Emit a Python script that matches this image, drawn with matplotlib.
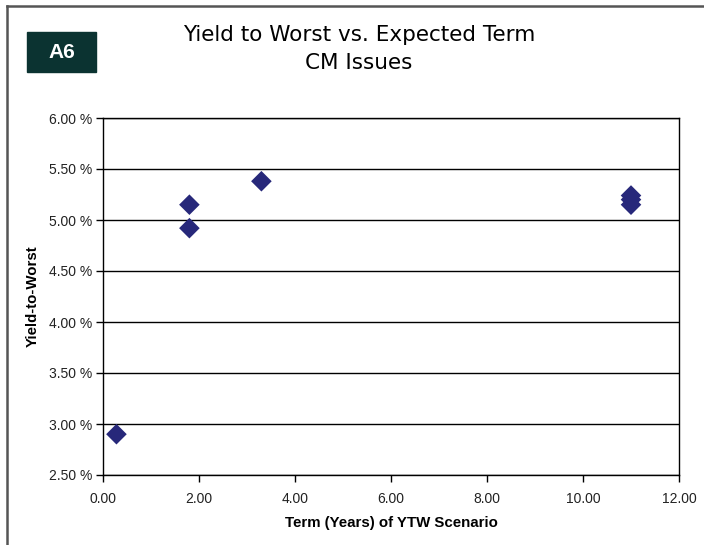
import matplotlib
matplotlib.use("Agg")
import matplotlib.pyplot as plt
from matplotlib.lines import Line2D
from matplotlib.patches import Rectangle
from matplotlib.ticker import FuncFormatter

# Term (years) and yield-to-worst (%) for each issue
term_years = [0.28, 1.80, 1.80, 3.30, 11.00, 11.00, 11.00]
ytw_pct = [2.90, 5.15, 4.92, 5.38, 5.24, 5.20, 5.15]

x_ticks = [0, 2, 4, 6, 8, 10, 12]
y_ticks = [2.5, 3.0, 3.5, 4.0, 4.5, 5.0, 5.5, 6.0]

plt.rcParams['font.family'] = ['Liberation Sans', 'DejaVu Sans']

fig = plt.figure(figsize=(7.04, 5.45), dpi=100)
ax = fig.add_axes([103 / 704, 1 - 475 / 545, 576 / 704, 357 / 545])

ax.scatter(term_years, ytw_pct, marker='D', s=110, color='#27287a',
           edgecolors='none', zorder=3)

ax.set_xlim(0, 12)
ax.set_ylim(2.5, 6.0)
ax.set_xticks(x_ticks)
ax.set_yticks(y_ticks)
ax.xaxis.set_major_formatter(FuncFormatter(lambda v, p: f"{v:.2f}"))
ax.yaxis.set_major_formatter(FuncFormatter(lambda v, p: f"{v:.2f} %"))
ax.tick_params(axis='both', direction='out', length=5, width=1,
               labelsize=10, colors='black', labelcolor='#222222')
ax.tick_params(axis='x', pad=7)
ax.tick_params(axis='y', pad=3)
ax.grid(axis='y', color='black', linewidth=1)
ax.set_axisbelow(True)
for sp in ax.spines.values():
    sp.set_color('black')
    sp.set_linewidth(1)

ax.set_xlabel("Term (Years) of YTW Scenario", fontsize=10.8, fontweight='bold')
ax.xaxis.set_label_coords(0.5, (475 - 516) / 357)
ax.set_ylabel("Yield-to-Worst", fontsize=10.8, fontweight='bold')
ax.yaxis.set_label_coords((40 - 103) / 576, 0.5)

# titles
fig.text(359 / 704, 1 - 41 / 545, "Yield to Worst vs. Expected Term",
         ha='center', va='baseline', fontsize=15.5, family='DejaVu Sans')
fig.text(359 / 704, 1 - 69 / 545, "CM Issues",
         ha='center', va='baseline', fontsize=15.5, family='DejaVu Sans')

# A6 badge
fig.add_artist(Rectangle((27 / 704, 1 - 72 / 545), 69 / 704, 40 / 545,
                         transform=fig.transFigure, color='#0b3331'))
fig.text(61.5 / 704, 1 - 52 / 545, "A6", ha='center', va='center',
         fontsize=15, fontweight='bold', color='white')

# page frame on top and left
fig.add_artist(Line2D([7 / 704, 1], [1 - 6 / 545, 1 - 6 / 545],
                      transform=fig.transFigure, color='#555555', linewidth=1.8))
fig.add_artist(Line2D([7 / 704, 7 / 704], [0, 1 - 6 / 545],
                      transform=fig.transFigure, color='#555555', linewidth=1.8))

fig.savefig("out.png", dpi=100)
